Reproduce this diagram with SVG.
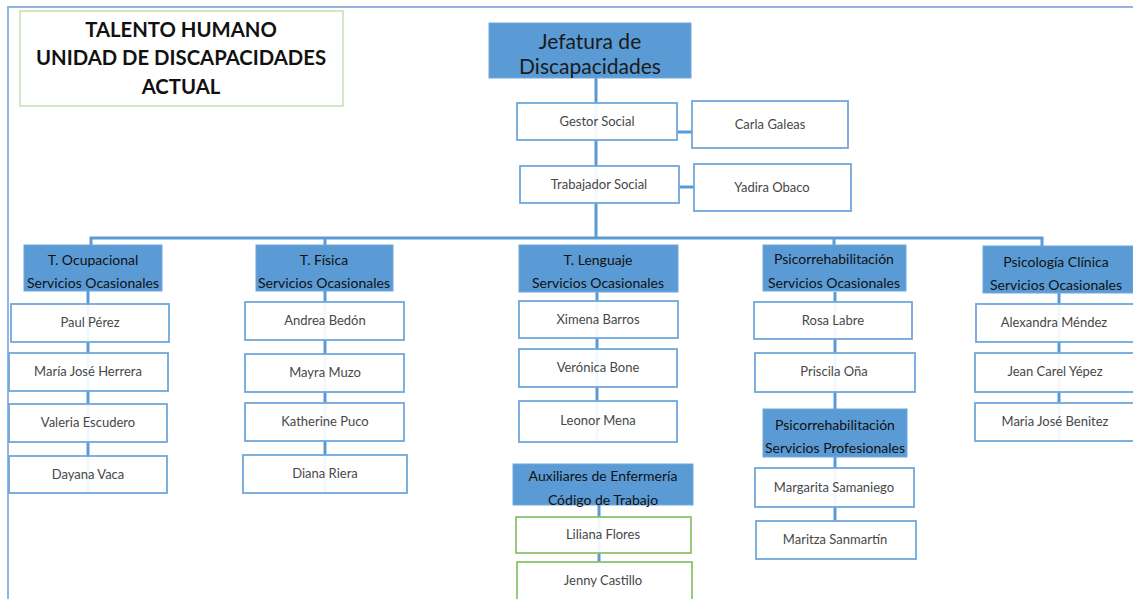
<svg xmlns="http://www.w3.org/2000/svg" width="1133" height="599" viewBox="0 0 1133 599">
<style>
.frame{fill:none;stroke:#93b3e3;stroke-width:2}
.title{fill:#fff;stroke:#a9d18e;stroke-width:1}
.tt{font-family:Lato,"Liberation Sans",sans-serif;font-weight:bold;font-size:20.3px;fill:#111;text-anchor:middle}
.hd{fill:#5b9bd5;stroke:#6fa8dc;stroke-width:1}
.ht{font-family:Lato,"Liberation Sans",sans-serif;font-size:14px;fill:#111;text-anchor:middle}
.jt{font-family:Lato,"Liberation Sans",sans-serif;font-size:21px;fill:#1a1a1a;text-anchor:middle}
.bx{fill:#fff;fill-opacity:0.93;stroke:#6fa8dc;stroke-width:1.8}
.gb{fill:#fff;fill-opacity:0.93;stroke:#8cc26e;stroke-width:1.8}
.pt{font-family:Lato,"Liberation Sans",sans-serif;font-size:13px;fill:#474747;text-anchor:middle}
.cn{fill:none;stroke:#5b9bd5;stroke-width:3}
</style>
<rect width="1133" height="599" fill="#fff"/>
<path class="frame" d="M8,599 V7 H1133"/>
<g id="title">
<rect class="title" x="20" y="11" width="323" height="95"/>
<text class="tt" x="181" y="37">TALENTO HUMANO</text>
<text class="tt" x="181" y="65">UNIDAD DE DISCAPACIDADES</text>
<text class="tt" x="181" y="94">ACTUAL</text>
</g>
<g id="connectors">
<path class="cn" d="M596,78 V238"/>
<path class="cn" d="M677,132 H692"/>
<path class="cn" d="M679,187 H694"/>
<path class="cn" d="M91,245 V238 H1042 V246"/>
<path class="cn" d="M325,238 V245"/>
<path class="cn" d="M834,238 V245"/>
<path class="cn" d="M88,291 V493"/>
<path class="cn" d="M325,291 V493"/>
<path class="cn" d="M597,292 V442"/>
<path class="cn" d="M599,505 V562"/>
<path class="cn" d="M835,292 V521"/>
<path class="cn" d="M1059,293 V441"/>
</g>
<g id="jefatura">
<rect class="hd" x="489" y="23" width="202" height="55"/>
<text class="jt" x="590" y="49">Jefatura de</text>
<text class="jt" x="590" y="74">Discapacidades</text>
</g>
<g id="gestor"><rect class="bx" x="517" y="103" width="160" height="37"/><text class="pt" x="597" y="126">Gestor Social</text></g>
<g id="carla"><rect class="bx" x="692" y="101" width="156" height="47"/><text class="pt" x="770" y="129">Carla Galeas</text></g>
<g id="trabajador"><rect class="bx" x="520" y="166" width="159" height="37"/><text class="pt" x="599" y="189">Trabajador Social</text></g>
<g id="yadira"><rect class="bx" x="694" y="164" width="157" height="47"/><text class="pt" x="772" y="192">Yadira Obaco</text></g>

<g id="h-ocupacional"><rect class="hd" x="24" y="245" width="138" height="46"/><text class="ht" x="93" y="265">T. Ocupacional</text><text class="ht" x="93" y="288">Servicios Ocasionales</text></g>
<g id="h-fisica"><rect class="hd" x="256" y="245" width="137" height="46"/><text class="ht" x="324" y="265">T. Física</text><text class="ht" x="324" y="288">Servicios Ocasionales</text></g>
<g id="h-lenguaje"><rect class="hd" x="519" y="245" width="159" height="47"/><text class="ht" x="598" y="265">T. Lenguaje</text><text class="ht" x="598" y="288">Servicios Ocasionales</text></g>
<g id="h-psicorr"><rect class="hd" x="763" y="245" width="143" height="46"/><text class="ht" x="834" y="264">Psicorrehabilitación</text><text class="ht" x="834" y="288">Servicios Ocasionales</text></g>
<g id="h-psicologia"><rect class="hd" x="983" y="246" width="150" height="47"/><text class="ht" x="1056" y="267">Psicología Clínica</text><text class="ht" x="1056" y="290">Servicios Ocasionales</text></g>

<g id="paul"><rect class="bx" x="11" y="304" width="158" height="38"/><text class="pt" x="90" y="327">Paul Pérez</text></g>
<g id="maria-jose-herrera"><rect class="bx" x="9" y="353" width="159" height="38"/><text class="pt" x="88" y="376">María José Herrera</text></g>
<g id="valeria"><rect class="bx" x="9" y="404" width="158" height="38"/><text class="pt" x="88" y="427">Valeria Escudero</text></g>
<g id="dayana"><rect class="bx" x="9" y="456" width="158" height="37"/><text class="pt" x="88" y="479">Dayana Vaca</text></g>

<g id="andrea"><rect class="bx" x="245" y="302" width="159" height="38"/><text class="pt" x="325" y="325">Andrea Bedón</text></g>
<g id="mayra"><rect class="bx" x="245" y="354" width="159" height="38"/><text class="pt" x="325" y="377">Mayra Muzo</text></g>
<g id="katherine"><rect class="bx" x="245" y="403" width="159" height="38"/><text class="pt" x="325" y="426">Katherine Puco</text></g>
<g id="diana"><rect class="bx" x="243" y="455" width="164" height="38"/><text class="pt" x="325" y="478">Diana Riera</text></g>

<g id="ximena"><rect class="bx" x="519" y="301" width="159" height="37"/><text class="pt" x="598" y="324">Ximena Barros</text></g>
<g id="veronica"><rect class="bx" x="519" y="349" width="158" height="38"/><text class="pt" x="598" y="372">Verónica Bone</text></g>
<g id="leonor"><rect class="bx" x="519" y="401" width="158" height="41"/><text class="pt" x="598" y="425">Leonor Mena</text></g>
<g id="h-auxiliares"><rect class="hd" x="513" y="464" width="180" height="41"/><text class="ht" x="603" y="481">Auxiliares de Enfermería</text><text class="ht" x="603" y="505">Código de Trabajo</text></g>
<g id="liliana"><rect class="gb" x="516" y="517" width="175" height="36"/><text class="pt" x="603" y="539">Liliana Flores</text></g>
<g id="jenny"><rect class="gb" x="517" y="562" width="175" height="40"/><text class="pt" x="603" y="585">Jenny Castillo</text></g>

<g id="rosa"><rect class="bx" x="754" y="302" width="158" height="37"/><text class="pt" x="833" y="325">Rosa Labre</text></g>
<g id="priscila"><rect class="bx" x="755" y="353" width="160" height="39"/><text class="pt" x="834" y="376">Priscila Oña</text></g>
<g id="h-psicorr-prof"><rect class="hd" x="763" y="409" width="144" height="48"/><text class="ht" x="835" y="430">Psicorrehabilitación</text><text class="ht" x="835" y="453">Servicios Profesionales</text></g>
<g id="margarita"><rect class="bx" x="755" y="468" width="159" height="39"/><text class="pt" x="834" y="492">Margarita Samaniego</text></g>
<g id="maritza"><rect class="bx" x="756" y="521" width="160" height="38"/><text class="pt" x="835" y="544">Maritza Sanmartín</text></g>

<g id="alexandra"><rect class="bx" x="976" y="304" width="160" height="38"/><text class="pt" x="1054" y="327">Alexandra Méndez</text></g>
<g id="jean"><rect class="bx" x="975" y="353" width="160" height="39"/><text class="pt" x="1055" y="376">Jean Carel Yépez</text></g>
<g id="maria-jose-benitez"><rect class="bx" x="975" y="403" width="160" height="38"/><text class="pt" x="1055" y="426">Maria José Benitez</text></g>
</svg>
